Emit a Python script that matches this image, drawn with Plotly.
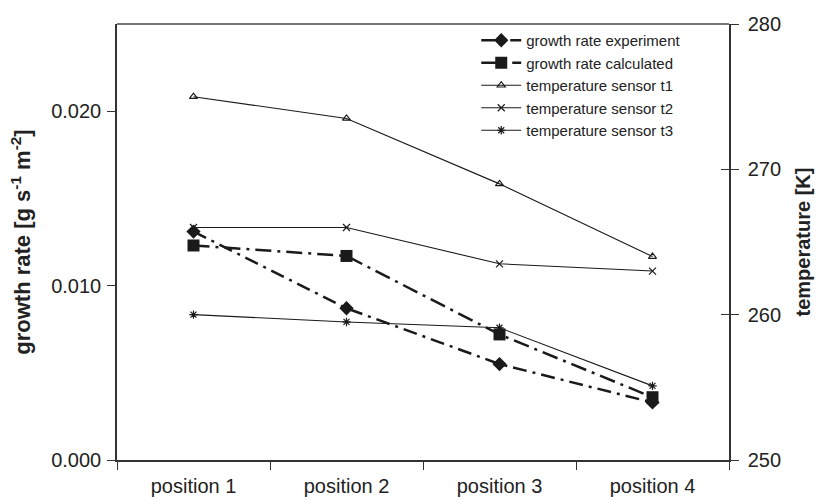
import plotly.graph_objects as go

categories = ["position 1", "position 2", "position 3", "position 4"]
growth_experiment = [0.0131, 0.0087, 0.0055, 0.0033]
growth_calculated = [0.0123, 0.0117, 0.0072, 0.0036]
temp_t1 = [275.0, 273.5, 269.0, 264.0]
temp_t2 = [266.0, 266.0, 263.5, 263.0]
temp_t3 = [260.0, 259.5, 259.1, 255.1]

FONT = "Liberation Sans, Arial, sans-serif"
INK = "#1a1a1a"

fig = go.Figure()
fig.add_trace(go.Scatter(
    x=categories, y=growth_experiment, name="growth rate experiment",
    mode="lines+markers", yaxis="y",
    line=dict(color=INK, width=2.5, dash="14px,6px,3px,6px"),
    marker=dict(symbol="diamond", size=11, color=INK)))
fig.add_trace(go.Scatter(
    x=categories, y=growth_calculated, name="growth rate calculated",
    mode="lines+markers", yaxis="y",
    line=dict(color=INK, width=2.5, dash="16px,6px,3px,6px"),
    marker=dict(symbol="square", size=12, color=INK)))
fig.add_trace(go.Scatter(
    x=categories, y=temp_t1, name="temperature sensor t1",
    mode="lines+markers", yaxis="y2",
    line=dict(color=INK, width=1.1),
    marker=dict(symbol="triangle-up-open", size=7, color=INK, line=dict(width=1.2))))
fig.add_trace(go.Scatter(
    x=categories, y=temp_t2, name="temperature sensor t2",
    mode="lines+markers", yaxis="y2",
    line=dict(color=INK, width=1.1),
    marker=dict(symbol="x-thin-open", size=7, color=INK, line=dict(width=1.2))))
fig.add_trace(go.Scatter(
    x=categories, y=temp_t3, name="temperature sensor t3",
    mode="lines+markers", yaxis="y2",
    line=dict(color=INK, width=1.1),
    marker=dict(symbol="asterisk-open", size=7, color=INK, line=dict(width=1.2))))

fig.update_layout(
    width=816, height=504,
    margin=dict(l=117, r=87, t=24, b=44, autoexpand=False),
    paper_bgcolor="white", plot_bgcolor="white",
    font=dict(family=FONT, color="#222", size=20),
    showlegend=True,
    legend=dict(x=0.587, y=1.0, xanchor="left", yanchor="top",
                bgcolor="rgba(0,0,0,0)", font=dict(size=15, color="#222"),
                tracegroupgap=0, itemwidth=40),
    xaxis=dict(type="category", tickson="boundaries", ticks="outside",
               ticklen=8, tickcolor="#333", showline=True, linecolor="#333",
               linewidth=1.5, showgrid=False, zeroline=False, automargin=False,
               tickfont=dict(size=20), ticklabelstandoff=7, range=[-0.5, 3.5]),
    yaxis=dict(range=[0, 0.025], tickvals=[0, 0.01, 0.02],
               ticktext=["0.000", "0.010", "0.020"],
               ticks="outside", ticklen=8, tickcolor="#333",
               showline=True, linecolor="#333", linewidth=1.5, automargin=False,
               showgrid=False, zeroline=False, tickfont=dict(size=20),
               ticklabelstandoff=2,
               title=dict(text="<b>growth rate [g s<sup>-1</sup> m<sup>-2</sup>]</b>",
                          font=dict(size=22), standoff=14)),
    yaxis2=dict(range=[250, 280], tickvals=[250, 260, 270, 280],
                overlaying="y", side="right", anchor="x", automargin=False,
                ticks="outside", ticklen=8, tickcolor="#333",
                showline=True, linecolor="#333", linewidth=1.5,
                showgrid=False, zeroline=False, tickfont=dict(size=20),
                ticklabelstandoff=5,
                title=dict(text="<b>temperature [K]</b>", font=dict(size=20),
                           standoff=16)),
    yaxis3=dict(range=[250, 280], tickvals=[250, 260, 270, 280],
                overlaying="y", side="right", anchor="x", automargin=False,
                ticks="inside", ticklen=8, tickcolor="#333",
                showticklabels=False, showline=False, showgrid=False,
                zeroline=False),
    shapes=[dict(type="line", xref="paper", yref="paper", x0=0, x1=1,
                 y0=1, y1=1, line=dict(color="#777", width=2))],
)

# invisible trace to activate the inner tick marks of the right axis
fig.add_trace(go.Scatter(x=[categories[0]], y=[temp_t1[0]], yaxis="y3",
                         mode="markers", marker=dict(opacity=0),
                         showlegend=False, hoverinfo="skip"))

fig.write_html("out.html",
               config={"displayModeBar": False},
               post_script="document.body.style.margin='0';"
                           "document.body.style.overflow='hidden';")
